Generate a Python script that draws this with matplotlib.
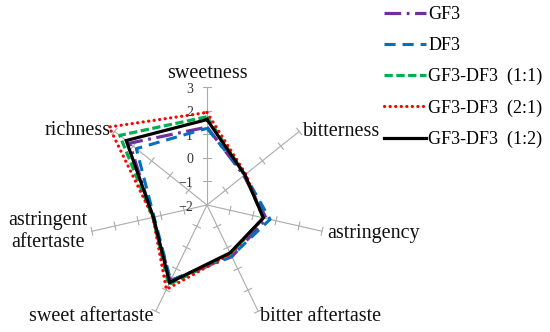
import numpy as np
import matplotlib
matplotlib.use("Agg")
import matplotlib.pyplot as plt

plt.rcParams['font.family'] = 'serif'
plt.rcParams['font.serif'] = ['Liberation Serif', 'Times New Roman', 'DejaVu Serif']
plt.rcParams['lines.scale_dashes'] = False

categories = ['sweetness', 'bitterness', 'astringency', 'bitter aftertaste',
              'sweet aftertaste', 'astringent\naftertaste', 'richness']
gf3 = [1.30, 0.00, 0.58, 0.43, 1.55, 0.35, 2.20]
df3 = [1.25, 0.05, 0.74, 0.40, 1.55, 0.30, 1.83]
mix11 = [1.74, 0.05, 0.45, 0.30, 1.75, 0.35, 2.73]
mix21 = [1.92, 0.10, 0.45, 0.30, 1.97, 0.35, 3.30]
mix12 = [1.62, 0.05, 0.45, 0.25, 1.65, 0.33, 2.38]
series_names = ['GF3', 'DF3', 'GF3-DF3  (1:1)', 'GF3-DF3  (2:1)', 'GF3-DF3  (1:2)']
tick_values = [-2, -1, 0, 1, 2, 3]
rmin, rmax = -2, 3

W, H = 550, 332
cx, cy = 207, 205      # centre pixel
unit = 23.6            # pixels per value unit

fig = plt.figure(figsize=(W / 100, H / 100), dpi=100)
ax = fig.add_axes([0, 0, 1, 1])
ax.set_xlim(-cx / unit, (W - cx) / unit)
ax.set_ylim(-(H - cy) / unit, cy / unit)
ax.axis('off')

n = len(categories)
angles = np.arange(n) * 2 * np.pi / n


def to_xy(vals):
    r = np.asarray(vals, dtype=float) - rmin
    return r * np.sin(angles), r * np.cos(angles)


grid_col = '#ababab'
R = rmax - rmin
half = 0.17
for a in angles:
    ex, ey = R * np.sin(a), R * np.cos(a)
    ax.plot([0, ex], [0, ey], color=grid_col, lw=0.8, zorder=1)
    px, py = np.cos(a), -np.sin(a)
    for k in range(1, R + 1):
        tx, ty = k * np.sin(a), k * np.cos(a)
        ax.plot([tx - half * px, tx + half * px], [ty - half * py, ty + half * py],
                color=grid_col, lw=0.8, zorder=1)

# radial tick labels on the sweetness axis
for v in tick_values:
    lab = str(v).replace('-', '\u2212')
    ax.annotate(lab, xy=(0, v - rmin), xytext=(-10, -1.5), textcoords='offset points',
                ha='right', va='center', fontsize=10, color='#333333', zorder=2)

styles = [
    dict(color='#7030A0', lw=2.3, linestyle=(0, (12, 4, 2, 4))),
    dict(color='#0070C0', lw=2.2, linestyle=(0, (8, 5))),
    dict(color='#00B050', lw=2.3, linestyle=(0, (6, 2.5))),
    dict(color='#FF0000', lw=2.3, linestyle=(0, (0.1, 3.9)), dash_capstyle='round'),
    dict(color='#000000', lw=2.3, linestyle='-'),
]
all_series = [gf3, df3, mix11, mix21, mix12]
handles = []
for i, (vals, st, name) in enumerate(zip(all_series, styles, series_names)):
    x, y = to_xy(vals)
    x = np.append(x, x[0])
    y = np.append(y, y[0])
    h, = ax.plot(x, y, label=name, zorder=3 + i, solid_joinstyle='miter', **st)
    handles.append(h)

# category labels
lab_specs = [
    dict(off=(0, 6.5), ha='center', va='baseline'),
    dict(off=(2.5, -3.6), ha='left', va='baseline'),
    dict(off=(3.6, -5), ha='left', va='baseline'),
    dict(off=(1.5, -7), ha='left', va='baseline'),
    dict(off=(-1.5, -7), ha='right', va='baseline'),
    dict(off=(-3, 0), ha='right', va='center'),
    dict(off=(-3, -2.5), ha='right', va='baseline'),
]
for a, name, sp in zip(angles, categories, lab_specs):
    ex, ey = R * np.sin(a), R * np.cos(a)
    ax.annotate(name, xy=(ex, ey), xytext=sp['off'], textcoords='offset points',
                ha=sp['ha'], va=sp['va'], fontsize=14.5, multialignment='center',
                color='#111111')

leg = fig.legend(handles=handles, loc='upper left',
                 bbox_to_anchor=(384 / W, 1 - 6 / H), frameon=False,
                 fontsize=13, handlelength=2.3, handletextpad=0.15,
                 labelspacing=0.78, borderpad=0, borderaxespad=0)

fig.savefig('out.png', dpi=100)
